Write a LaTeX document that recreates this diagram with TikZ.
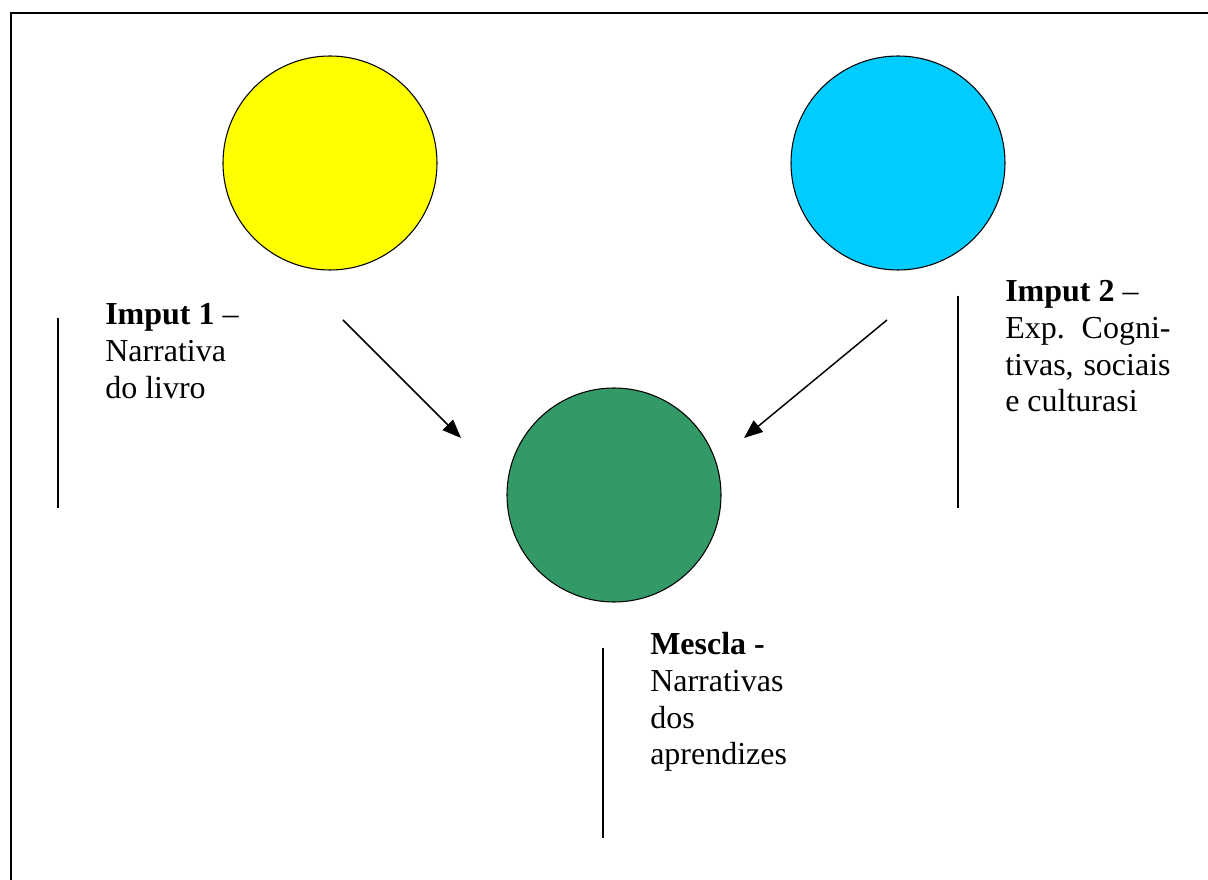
\documentclass[tikz,border=0pt]{standalone}
\usepackage{fontspec}
\setmainfont{Liberation Serif}
\usetikzlibrary{arrows.meta}
\definecolor{inyellow}{HTML}{FFFF00}
\definecolor{inblue}{HTML}{00CCFF}
\definecolor{blendgreen}{HTML}{339966}
% a top-aligned block of lines whose baseline is that of its first line
\newcommand{\labelblock}[1]{\parbox[t]{130pt}{\fontsize{24}{27.5}\selectfont\raggedright #1}}
% a line spread out to the full column width
\newcommand{\fullline}[1]{\leavevmode\hbox to 124pt{#1}}
\tikzset{
  space/.style={circle, draw=black, line width=0.8pt, minimum size=160.5pt, inner sep=0pt},
  label text/.style={anchor=base west, inner sep=0pt},
  bracket/.style={line width=1.1pt},
  flow/.style={line width=1.1pt, -{Triangle[length=14pt,width=11pt]}}
}
\begin{document}
\begin{tikzpicture}[x=0.75pt,y=-0.75pt]
  \useasboundingbox (0,0) rectangle (1208,880);
  % outer frame (runs past the right and bottom edges)
  \begin{scope}
    \clip (0,0) rectangle (1208,880);
    \draw[line width=1.6pt] (11,13) rectangle (1240,920);
  \end{scope}

  % the three spaces
  \node[space, fill=inyellow]   (in1)   at (330,163) {};
  \node[space, fill=inblue]     (in2)   at (898,163) {};
  \node[space, fill=blendgreen] (blend) at (614,495) {};

  % projections into the blend
  \coordinate (a1s) at (343,320);
  \coordinate (a1e) at (461,438);
  \coordinate (a2s) at (887,320);
  \coordinate (a2e) at (744,438);
  \draw[flow] (a1s) -- (a1e);
  \draw[flow] (a2s) -- (a2e);

  % labels with their side rules
  \node[label text] (t1) at (105,325) {\labelblock{\textbf{Imput 1} –\\Narrativa\\do livro}};
  \coordinate (r1a) at (58,318);
  \coordinate (r1b) at (58,508);
  \draw[bracket] (r1a) -- (r1b);

  \node[label text] (t2) at (1005,302)
    {\labelblock{\textbf{Imput 2} –\\\fullline{Exp.\hfill Cogni-}\\\fullline{tivas,\hfill sociais}\\e culturasi}};
  \coordinate (r2a) at (958,296);
  \coordinate (r2b) at (958,508);
  \draw[bracket] (r2a) -- (r2b);

  \node[label text] (t3) at (650,655) {\labelblock{\textbf{Mescla -}\\Narrativas\\dos\\aprendizes}};
  \coordinate (r3a) at (603,648);
  \coordinate (r3b) at (603,838);
  \draw[bracket] (r3a) -- (r3b);
\end{tikzpicture}
\end{document}
